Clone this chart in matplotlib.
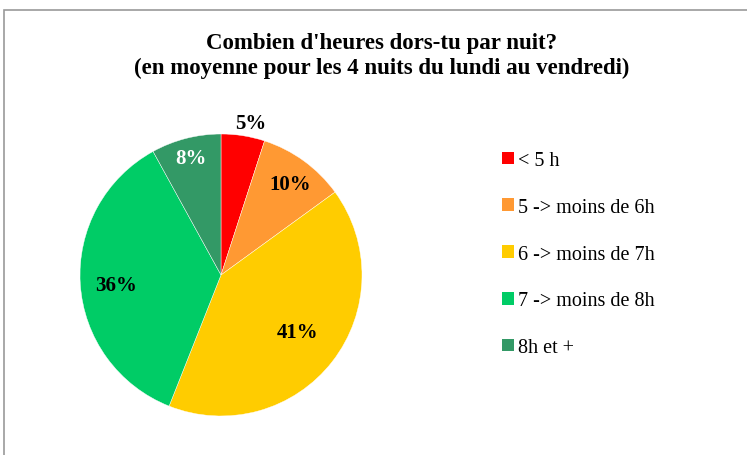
import numpy as np
import matplotlib
matplotlib.use("Agg")
import matplotlib.pyplot as plt
from matplotlib.patches import Rectangle, Patch

plt.rcParams['font.family'] = ['Liberation Serif', 'DejaVu Serif']

# data
categories = ['< 5 h', '5 -> moins de 6h', '6 -> moins de 7h', '7 -> moins de 8h', '8h et +']
values = [5, 10, 41, 36, 8]
colors = ['#FF0000', '#FF9933', '#FFCC00', '#00CC66', '#339966']
title = "Combien d'heures dors-tu par nuit?\n(en moyenne pour les 4 nuits du lundi au vendredi)"

W, H = 747, 456
fig = plt.figure(figsize=(W / 100, H / 100), dpi=100)

# chart border (runs off the right/bottom edges)
fig.patches.append(Rectangle((4 / W, -0.05), 1.1, 1 - 10.5 / H + 0.05,
                             transform=fig.transFigure, fill=False,
                             edgecolor='#9a9a9a', lw=1.2))

fig.text(382 / W, 1 - 56 / H, title, ha='center', va='center',
         fontsize=16.5, fontweight='bold', linespacing=1.28)

# pie
cx, cy, r = 221, 276, 141
ax = fig.add_axes([(cx - r) / W, (H - cy - r) / H, 2 * r / W, 2 * r / H])
wedges, texts, autotexts = ax.pie(values, colors=colors, startangle=90, counterclock=False,
                                  autopct='%1.0f%%', radius=1,
                                  wedgeprops=dict(edgecolor='white', linewidth=0.3))
ax.set_xlim(-1, 1)
ax.set_ylim(-1, 1)
ax.set_aspect('equal')
ax.axis('off')

# label distances (fraction of radius) and angle nudges, like Excel best fit
dists = [1.10, 0.81, 0.68, 0.75, 0.86]
nudges = [-2, -1, 1, 2, 0]
label_colors = ['black', 'black', 'black', 'black', 'white']
for w, t, d, n, c in zip(wedges, autotexts, dists, nudges, label_colors):
    ang = np.deg2rad((w.theta1 + w.theta2) / 2 + n)
    t.set_position((d * np.cos(ang), d * np.sin(ang)))
    t.set_fontsize(15)
    t.set_fontweight('bold')
    t.set_color(c)

handles = [Patch(facecolor=c, edgecolor='none') for c in colors]
fig.legend(handles, categories, loc='upper left', bbox_to_anchor=(502 / W, 1 - 152 / H),
           frameon=False, fontsize=14.5, handlelength=0.6, handleheight=0.6,
           handletextpad=0.2, labelspacing=1.38, borderpad=0, borderaxespad=0)

fig.savefig('out.png', dpi=100, facecolor='white')
